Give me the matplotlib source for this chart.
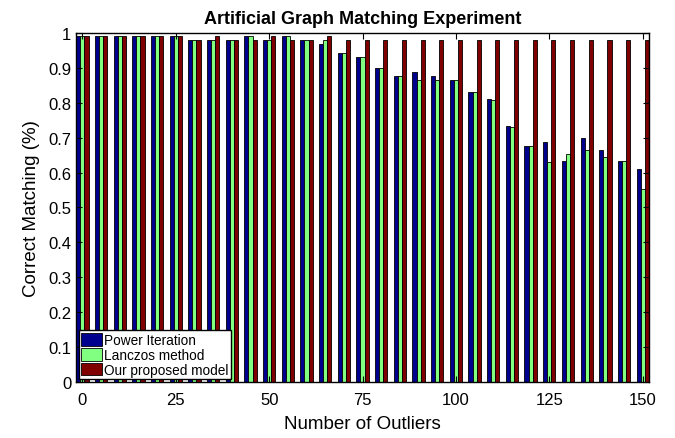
import numpy as np
import matplotlib.pyplot as plt

plt.rcParams['font.family'] = ['Liberation Sans', 'DejaVu Sans']

# number of outliers (x groups)
outliers = np.arange(0, 151, 5)

# correct matching rates
power_iter = [0.99, 0.99, 0.99, 0.99, 0.99, 0.99, 0.98, 0.98, 0.98, 0.99,
              0.98, 0.99, 0.98, 0.967, 0.944, 0.932, 0.899, 0.876, 0.888, 0.876,
              0.864, 0.832, 0.811, 0.733, 0.676, 0.688, 0.632, 0.699, 0.665, 0.632,
              0.609]
lanczos = [0.99, 0.99, 0.99, 0.99, 0.99, 0.99, 0.98, 0.98, 0.98, 0.99,
           0.98, 0.99, 0.98, 0.98, 0.942, 0.930, 0.899, 0.876, 0.864, 0.864,
           0.864, 0.832, 0.809, 0.731, 0.676, 0.631, 0.653, 0.665, 0.644, 0.632,
           0.553]
proposed = [0.99, 0.99, 0.99, 0.99, 0.99, 0.99, 0.98, 0.99, 0.98, 0.98,
            0.99, 0.98, 0.98, 0.99, 0.98, 0.98, 0.98, 0.98, 0.98, 0.98,
            0.98, 0.98, 0.98, 0.98, 0.98, 0.98, 0.98, 0.98, 0.98, 0.98,
            0.98]

labels = ['Power Iteration', 'Lanczos method', 'Our proposed model']
colors = ['#00008F', '#80FF80', '#800000']

fig = plt.figure(figsize=(6.75, 4.39), dpi=100)
ax = fig.add_axes([0.1126, 0.1276, 0.849, 0.795])

w = 1.1
series = [power_iter, lanczos, proposed]
for k, vals in enumerate(series):
    ax.bar(outliers + (k - 1) * w, vals, width=w, color=colors[k],
           edgecolor='black', linewidth=0.6, label=labels[k])

ax.set_xlim(-1.7, 151.7)
ax.set_ylim(0, 1)
ax.set_xticks([0, 25, 50, 75, 100, 125, 150])
ax.set_yticks(np.arange(0, 1.01, 0.1))
ax.set_yticklabels(['0', '0.1', '0.2', '0.3', '0.4', '0.5', '0.6', '0.7', '0.8', '0.9', '1'])
ax.tick_params(direction='in', top=True, right=True, length=4, labelsize=12)
ax.tick_params(axis='x', pad=7)
for s in ax.spines.values():
    s.set_linewidth(1.0)

ax.set_title('Artificial Graph Matching Experiment', fontsize=13, fontweight='bold', pad=7)
ax.set_xlabel('Number of Outliers', fontsize=13.5, labelpad=6)
ax.set_ylabel('Correct Matching (%)', fontsize=13.5, labelpad=6)

leg = ax.legend(loc='lower left', fontsize=9.8, fancybox=False, framealpha=1,
                edgecolor='black', handlelength=1.5, handleheight=1.05,
                handletextpad=0.15, borderpad=0.2, labelspacing=0.05,
                borderaxespad=0.2)
leg.get_frame().set_linewidth(1.0)

fig.savefig('out.png', dpi=100)
